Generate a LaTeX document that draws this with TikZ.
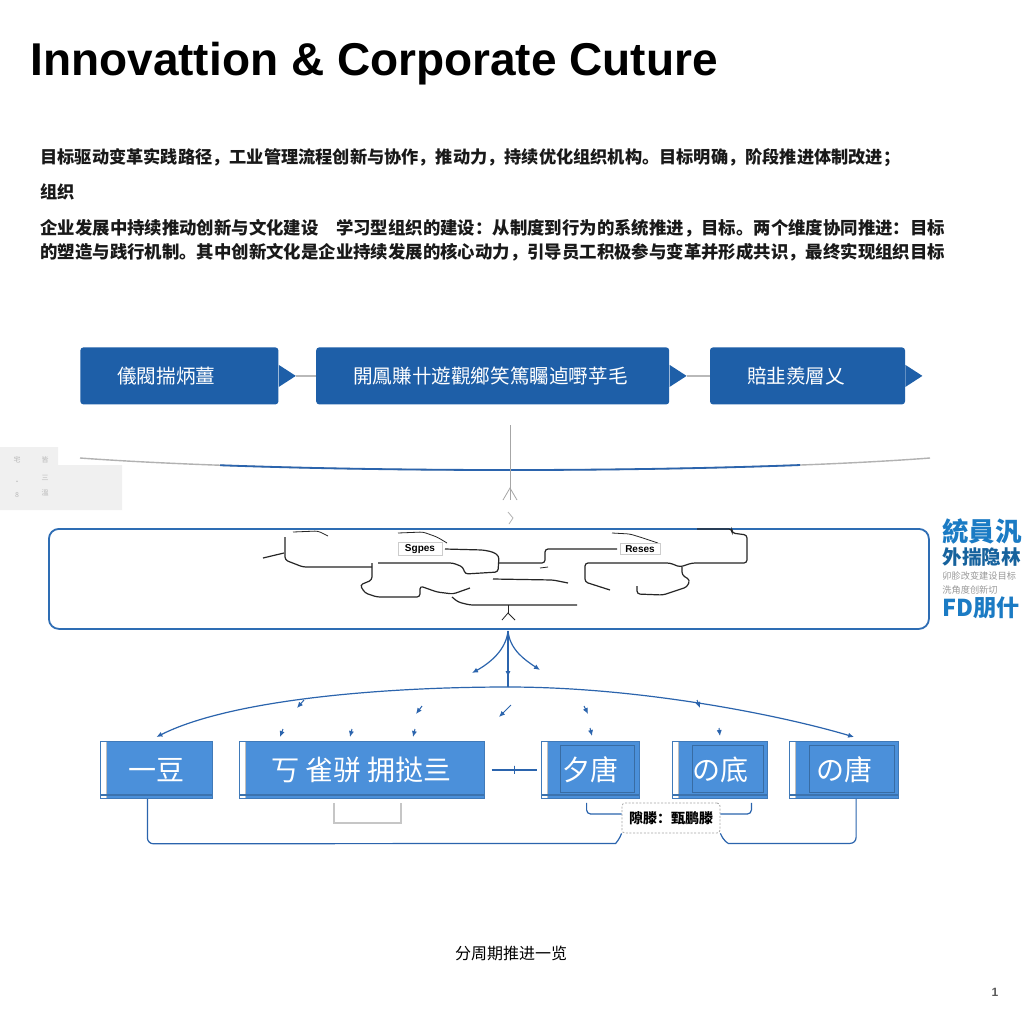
\documentclass[tikz,border=0pt]{standalone}
\usepackage{fontspec}
\setmainfont{Liberation Sans}
\newfontfamily\cjk{Noto Sans CJK SC}
\usepackage{xcolor}
\usetikzlibrary{arrows.meta,positioning,calc}
\definecolor{tblue}{HTML}{1E5FA8}
\definecolor{lblue}{HTML}{4B90DA}
\definecolor{rblue}{HTML}{2E6DB4}
\definecolor{cblue}{HTML}{2B64AD}
\definecolor{teal}{HTML}{1B7BC4}

\begin{document}
\begin{tikzpicture}[
  x=0.5pt, y=-0.5pt,
  font=\cjk,
  tbox/.style={fill=tblue, rounded corners=1.5pt, text=white, align=left, inner xsep=18.5pt, minimum height=28.5pt, font=\cjk\fontsize{9.8}{11}\selectfont},
  lbox/.style={fill=lblue, draw=lblue!85!black, line width=0.4pt, text=white, inner sep=0pt, minimum height=28.5pt, font=\cjk\fontsize{14}{16}\selectfont,
    path picture={
      \fill[white] (path picture bounding box.south west) rectangle ([xshift=3pt]path picture bounding box.north west);
      \draw[gray!50] ([xshift=3pt]path picture bounding box.south west) -- ([xshift=3pt]path picture bounding box.north west);
      \fill[lblue!80!black] ([yshift=1pt]path picture bounding box.south west) rectangle ([yshift=2.3pt]path picture bounding box.south east);}},
  panel/.style={draw=rblue, line width=0.9pt, rounded corners=5pt},
  para/.style={anchor=west, inner sep=0pt, text=black!90, font=\cjk\bfseries\fontsize{8.6}{10}\selectfont},
  wire/.style={draw=black!85, line width=0.6pt, rounded corners=1.5pt},
  tagbox/.style={draw=gray!40, line width=0.3pt, fill=white, inner sep=1pt, font=\bfseries\fontsize{5}{6}\selectfont},
  conn/.style={draw=cblue, line width=0.6pt},
  arr/.style={-{Latex[length=3pt,width=2.6pt]}},
  tickmark/.style={draw=cblue, line width=0.5pt, inner sep=0pt, minimum width=0pt, minimum height=4pt},
  notebox/.style={draw=gray!70, dash pattern=on 1pt off 0.8pt, fill=white, rounded corners=1.5pt, inner xsep=3pt, minimum width=49pt, minimum height=15pt, font=\cjk\bfseries\fontsize{7}{8}\selectfont},
  tinytxt/.style={text=gray!55, inner sep=0pt, font=\cjk\fontsize{3.5}{4}\selectfont}
]
\fill[white] (0,0) rectangle (1024,1024);
\useasboundingbox (0,0) rectangle (1024,1024);

% title and paragraph
\node[anchor=base west, inner sep=0pt, font=\bfseries\fontsize{23}{27}\selectfont] (title) at (30,75) {Innovattion \& Corporate Cuture};
\node[para] (l1) at (40,158) {目标驱动变革实践路径，工业管理流程创新与协作，推动力，持续优化组织机构。目标明确，阶段推进体制改进；};
\node[para] (l2) at (40,192) {组织};
\node[para, font=\cjk\bfseries\fontsize{8.7}{10}\selectfont] (l3) at (40,228) {企业发展中持续推动创新与文化建设　学习型组织的建设：从制度到行为的系统推进，目标。两个维度协同推进：目标};
\node[para, font=\cjk\bfseries\fontsize{8.7}{10}\selectfont] (l4) at (40,252) {的塑造与践行机制。其中创新文化是企业持续发展的核心动力，引导员工积极参与变革并形成共识，最终实现组织目标};

% top row
\node[tbox, text width=62pt, anchor=north west] (b1) at (80,347) {儀閥揣炳薑};
\node[tbox, text width=139.5pt, right=18.5pt of b1] (b2) {開鳳賺卄遊觀鄉笑篤矚逌嘢苸毛};
\node[tbox, text width=60.5pt, right=20pt of b2] (b3) {賠韭羨層乂};
\foreach \b in {b1,b2,b3}
  \fill[tblue] ([yshift=5.5pt]\b.east) -- ([xshift=8.5pt]\b.east) -- ([yshift=-5.5pt]\b.east) -- cycle;
\draw[gray!55, line width=0.8pt] ([xshift=8.5pt]b1.east) -- (b2.west);
\draw[gray!55, line width=0.8pt] ([xshift=8.5pt]b2.east) -- (b3.west);

% left grey block
\fill[gray!12] (0,447) -- (58,447) -- (58,465) -- (122,465) -- (122,510) -- (0,510) -- cycle;
\node[tinytxt] (g1) at (17,460) {宅};
\node[tinytxt] (g2) at (45,460) {皆};
\node[tinytxt] (g3) at (17,483) {·};
\node[tinytxt] (g4) at (45,478) {三};
\node[tinytxt] (g5) at (17,495) {8};
\node[tinytxt] (g6) at (45,493) {溫};

% sweep line and stem
\coordinate (sl) at (80,458);
\coordinate (sr) at (930,458);
\draw[gray!60, line width=0.7pt] (sl) .. controls (300,474) and (720,474) .. (sr);
\begin{scope}
  \clip (220,440) rectangle (800,490);
  \draw[cblue, line width=0.9pt] (sl) .. controls (300,474) and (720,474) .. (sr);
\end{scope}
\coordinate (vt) at (510,425);
\coordinate (vb) at (510,500);
\draw[gray!70, line width=0.4pt] (vt) -- (vb);
\draw[gray!70, line width=0.4pt] ($(vb)+(-7,0)$) -- ($(vb)+(0,-12)$) -- ($(vb)+(7,0)$);
\draw[gray!60, line width=0.4pt] (508,512) -- (513,518) -- (509,524);

% panel with wiring
\node[panel, minimum width=440pt, minimum height=50pt, anchor=north west] (pn) at (48,528) {};
\draw[wire] (263,558) -- (284,553);
\draw[wire] (285,537) -- (285,560) -- (303,567) -- (372,567);
\draw[wire, line width=0.4pt] (293,532) -- (318,531) -- (328,536);
\draw[wire] (372,563) -- (372,580) -- (360,585) -- (365,593) -- (377,597) -- (420,597) -- (420,586) -- (437,592) -- (453,594) -- (470,588);
\draw[wire] (378,563) -- (453,563) -- (463,567) -- (465,574) -- (498,572) -- (499,556) -- (493,552) -- (483,550) -- (445,549);
\draw[wire] (499,563) -- (545,563) -- (545,549) -- (617,549);
\draw[wire, line width=0.4pt] (398,533) -- (423,532) -- (437,537) -- (447,543);
\draw[wire] (493,579) -- (553,580) -- (568,583);
\draw[wire, line width=0.4pt] (540,568) -- (548,567);
\draw[wire] (452,597) -- (458,602) -- (470,605) -- (577,605);
\draw[wire, line width=0.4pt] (508,605) -- (508,613);
\draw[wire, line width=0.4pt, rounded corners=0pt] (502,620) -- (508,613) -- (515,620);
\draw[wire] (610,590) -- (585,582) -- (585,563) -- (670,563) -- (680,567) -- (692,563) -- (747,563) -- (747,535) -- (732,533) -- (732,529) -- (697,529);
\draw[wire] (682,567) -- (682,575) -- (690,580) -- (687,587) -- (663,595) -- (637,594) -- (637,586);
\draw[wire, line width=0.4pt] (612,533) -- (630,534) -- (643,538) -- (658,543);
\node[tagbox, minimum width=22pt] (sp) at (420,549) {Sgpes};
\node[tagbox, minimum width=20pt] (rs) at (640,549) {Reses};

% right side text
\node[anchor=west, inner sep=0pt, text=teal, font=\cjk\bfseries\fontsize{13.2}{15}\selectfont] (r1) at (942,532) {統員汎};
\node[anchor=west, inner sep=0pt, text=teal!80!black, font=\cjk\bfseries\fontsize{9.8}{11}\selectfont] (r2) at (942,557) {外揣隐林};
\node[anchor=west, inner sep=0pt, text=gray!80, font=\cjk\fontsize{4.6}{5}\selectfont] (r3) at (942,576) {卯胗改变建设目标};
\node[anchor=west, inner sep=0pt, text=gray!80, font=\cjk\fontsize{4.6}{5}\selectfont] (r4) at (942,590) {洗角度创新切};
\node[anchor=west, inner sep=0pt, text=teal, font=\cjk\bfseries\fontsize{11.6}{13}\selectfont] (r5) at (942,608) {FD朋什};

% bottom row
\node[lbox, minimum width=56pt, anchor=north west] (bb1) at (100,741) {一豆};
\node[lbox, minimum width=122.5pt, right=13pt of bb1] (bb2) {丂 雀骈 拥挞亖};
\node[lbox, minimum width=49pt, right=28pt of bb2] (bb3) {夕唐};
\node[lbox, minimum width=47.5pt, right=16.5pt of bb3] (bb4) {の底};
\node[lbox, minimum width=54.5pt, right=10.5pt of bb4] (bb5) {の唐};
\foreach \b in {bb3,bb4,bb5}
  \draw[lblue!75!black, line width=0.4pt] ([xshift=10pt,yshift=-2pt]\b.north west) rectangle ([xshift=-2.5pt,yshift=3pt]\b.south east);

% fan and arc
\coordinate (hub) at (508,631);
\coordinate (apex) at (508,687);
\coordinate (al) at ($(bb1.north)+(0,-4)$);
\coordinate (ar) at ($(bb5.north)+(10,-4)$);
\draw[conn] (hub) -- (apex);
\draw[conn, arr] (hub) -- (508,677);
\draw[conn, arr] (hub) .. controls (506,650) and (490,663) .. (472,673);
\draw[conn, arr] (hub) .. controls (510,650) and (525,660) .. (540,670);
\draw[conn, arr] (apex) .. controls (380,687) and (230,700) .. (al);
\draw[conn, arr] (apex) .. controls (640,687) and (780,715) .. (ar);
\foreach \ax/\ay/\bx/\by in {297/708/304/700, 416/714/422/706, 499/717/511/705, 588/714/584/706, 700/708/697/700,
    280/737/283/729, 350/737/352/729, 413/737/415/729, 592/736/590/728, 720/736/719/728}
  \draw[conn, arr, line width=0.5pt] (\bx,\by) -- (\ax,\ay);

% brackets under the row
\draw[conn] ([xshift=3.5pt]bb2.east) -- node[tickmark]{} ([xshift=-2pt]bb3.west);
\draw[gray!45, line width=0.8pt] ($(bb2.south west)+(95,4)$) -- ($(bb2.south west)+(95,24)$) -- ($(bb2.south west)+(162,24)$) -- ($(bb2.south west)+(162,4)$);
\node[notebox] (nt) at (671,818) {隙滕：甄鹏滕};
\draw[conn, rounded corners=2pt] ($(bb3.south west)+(46,4)$) |- ($(nt.west)+(0,-4)$);
\draw[conn, rounded corners=2pt] ($(bb4.south west)+(79,4)$) |- ($(nt.east)+(0,-4)$);
\draw[conn, rounded corners=3pt] ($(bb1.south)+(-9,0)$) -- ++(0,45) -- ($(nt.south west)+(-12,10)$) to[out=0,in=-110] (nt.south west);
\draw[conn, rounded corners=3pt] (nt.south east) to[out=-70,in=180] ($(nt.south east)+(14,10)$) -| ($(bb5.south)+(12,0)$);

% footer
\node[font=\cjk\fontsize{8}{9}\selectfont] (cap) at (511,953) {分周期推进一览};
\node[text=gray!70!black, font=\bfseries\fontsize{6}{7}\selectfont] (pg) at (995,992) {1};
\end{tikzpicture}
\end{document}
